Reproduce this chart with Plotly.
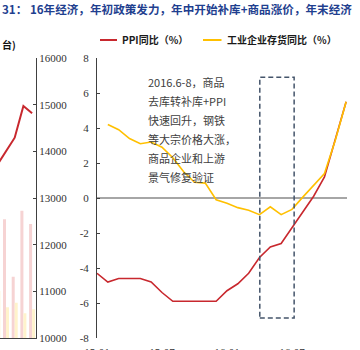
import plotly.graph_objects as go

# ---------------- data ----------------
months = ["15-01", "15-02", "15-03", "15-04", "15-05", "15-06", "15-07", "15-08",
          "15-09", "15-10", "15-11", "15-12", "16-01", "16-02", "16-03", "16-04",
          "16-05", "16-06", "16-07", "16-08", "16-09", "16-10", "16-11", "16-12"]
ppi_yoy = [-4.3, -4.8, -4.6, -4.6, -4.6, -4.8, -5.4, -5.9, -5.9, -5.9, -5.9, -5.9,
           -5.3, -4.9, -4.3, -3.4, -2.8, -2.6, -1.7, -0.8, 0.1, 1.2, 3.3, 5.5]
inv_months = months[1:]
inventory_yoy = [4.2, 3.9, 3.4, 3.1, 3.2, 2.9, 2.3, 1.5, 0.9, 0.85, -0.1, -0.3,
                 -0.55, -0.7, -0.95, -0.5, -0.95, -0.65, 0.05, 0.7, 1.4, 3.3, 5.5]
month_ticks = ["15-01", "15-07", "16-01", "16-07"]
y_ticks = [-8, -6, -4, -2, 0, 2, 4, 6, 8]
y_tick_text = ["-8", "-6", "-4", "-2", "0", "2", "4", "6", "8"]

# left (cropped) neighbouring panel
left_cats = [0, 1, 2, 3, 4]
left_line = [13711, 13996, 14292, 14971, 14815]
left_bar_pink = [12300, 12543, 11314, 12728, 12443]
left_bar_yellow = [11007, 10658, 10756, 10529, 10615]
left_ticks = [10000, 11000, 12000, 13000, 14000, 15000, 16000]
left_tick_text = ["10000", "11000", "12000", "13000", "14000", "15000", "16000"]

legend_names = ["PPI同比（%）", "工业企业存货同比（%）"]
title_text = "31： 16年经济，年初政策发力，年中开始补库+商品涨价，年末经济"
unit_text = "台)"
note_lines = ["2016.6-8，商品", "去库转补库+PPI", "快速回升，钢铁",
              "等大宗价格大涨，", "商品企业和上游", "景气修复验证"]

RED = "#C8282E"
GOLD = "#FFC000"
W, H = 360, 350


def px(x):
    return x / W


def py(y):
    return 1 - y / H


fig = go.Figure()

# left panel
fig.add_trace(go.Bar(x=left_cats, y=left_bar_pink, marker_color="#F6D3D3",
                     marker_line_width=0, xaxis="x2", yaxis="y2", showlegend=False))
fig.add_trace(go.Bar(x=left_cats, y=left_bar_yellow, marker_color="#FFF3CC",
                     marker_line_width=0, xaxis="x2", yaxis="y2", showlegend=False))
fig.add_trace(go.Scatter(x=left_cats, y=left_line, mode="lines",
                         line=dict(color=RED, width=2), xaxis="x2", yaxis="y2",
                         showlegend=False))

# main panel
fig.add_trace(go.Scatter(x=months, y=ppi_yoy, mode="lines", name=legend_names[0],
                         line=dict(color=RED, width=1.6), showlegend=False))
fig.add_trace(go.Scatter(x=inv_months, y=inventory_yoy, mode="lines", name=legend_names[1],
                         line=dict(color=GOLD, width=1.6), showlegend=False))

serif = dict(family="Liberation Serif", size=11, color="#333333")
ydom = [py(338), py(58)]

fig.update_layout(
    template="none",
    width=W, height=H,
    margin=dict(l=0, r=0, t=0, b=0, autoexpand=False),
    paper_bgcolor="white", plot_bgcolor="rgba(0,0,0,0)",
    showlegend=False,
    barmode="group", bargap=0.31, bargroupgap=0,
    xaxis=dict(domain=[px(97), px(347)], type="category", categoryorder="array",
               categoryarray=months, range=[0, 23.08], tickmode="array",
               tickvals=month_ticks, ticktext=month_ticks, showline=False,
               showgrid=False, zeroline=False, ticks="outside", ticklen=4,
               tickcolor="rgba(0,0,0,0)", tickfont=serif, anchor="y", automargin=False),
    yaxis=dict(domain=ydom, range=[-8, 8], tickmode="array", tickvals=y_ticks,
               ticktext=y_tick_text, showgrid=False,
               showline=True, linecolor="#404040", linewidth=1, ticks="inside",
               ticklen=3, tickcolor="#404040", tickfont=serif,
               zeroline=True, zerolinecolor="#A6A6A6", zerolinewidth=2,
               ticklabelstandoff=5, anchor="x", automargin=False),
    xaxis2=dict(domain=[0, px(36)], range=[0.31, 4.448], showline=True,
                linecolor="#404040", linewidth=1, showticklabels=False, ticks="",
                showgrid=False, zeroline=False, anchor="y2", automargin=False),
    yaxis2=dict(domain=ydom, range=[10000, 16000], side="right", tickmode="array",
                tickvals=left_ticks, ticktext=left_tick_text, showgrid=False,
                showline=True, linecolor="#404040",
                linewidth=1, ticks="inside", ticklen=3, tickcolor="#404040",
                tickfont=serif, zeroline=False, anchor="x2", automargin=False),
)

shapes = [
    dict(type="rect", xref="x", yref="y", x0=15.03, x1=18.2, y0=-6.86, y1=6.9,
         line=dict(color="#44546A", width=1.5, dash="5px,3px"), fillcolor="rgba(0,0,0,0)"),
    dict(type="line", xref="paper", yref="paper", x0=px(100), x1=px(117), y0=py(40), y1=py(40),
         line=dict(color=RED, width=2)),
    dict(type="line", xref="paper", yref="paper", x0=px(203), x1=px(221.5), y0=py(40), y1=py(40),
         line=dict(color=GOLD, width=2)),
]
fig.update_layout(shapes=shapes)

ann = []
ann.append(dict(xref="paper", yref="paper", x=0, y=py(9.5), xanchor="left", yanchor="middle",
                text="<b>" + title_text + "</b>", showarrow=False,
                font=dict(family="Noto Sans CJK SC", size=11.6, color="#1F3F8F")))
ann.append(dict(xref="paper", yref="paper", x=0, y=py(45), xanchor="left", yanchor="middle",
                text="<b>" + unit_text + "</b>", showarrow=False,
                font=dict(family="Noto Sans CJK SC", size=10, color="#111111")))
ann.append(dict(xref="paper", yref="paper", x=px(120), y=py(39.5), xanchor="left", yanchor="middle",
                text="<b>" + legend_names[0] + "</b>", showarrow=False,
                font=dict(family="Noto Sans CJK SC", size=10, color="#1a1a1a")))
ann.append(dict(xref="paper", yref="paper", x=px(224.5), y=py(39.5), xanchor="left", yanchor="middle",
                text="<b>" + legend_names[1] + "</b>", showarrow=False,
                font=dict(family="Noto Sans CJK SC", size=10, color="#1a1a1a")))
line_y = [81.7, 100.8, 120.0, 139.2, 158.3, 177.4]
for t, yy in zip(note_lines, line_y):
    ann.append(dict(xref="paper", yref="paper", x=px(146), y=py(yy), xanchor="left",
                    yanchor="middle", text=t, showarrow=False,
                    font=dict(family="Noto Sans CJK SC", size=11, color="#404040")))
fig.update_layout(annotations=ann)

fig.write_html("out.html")
